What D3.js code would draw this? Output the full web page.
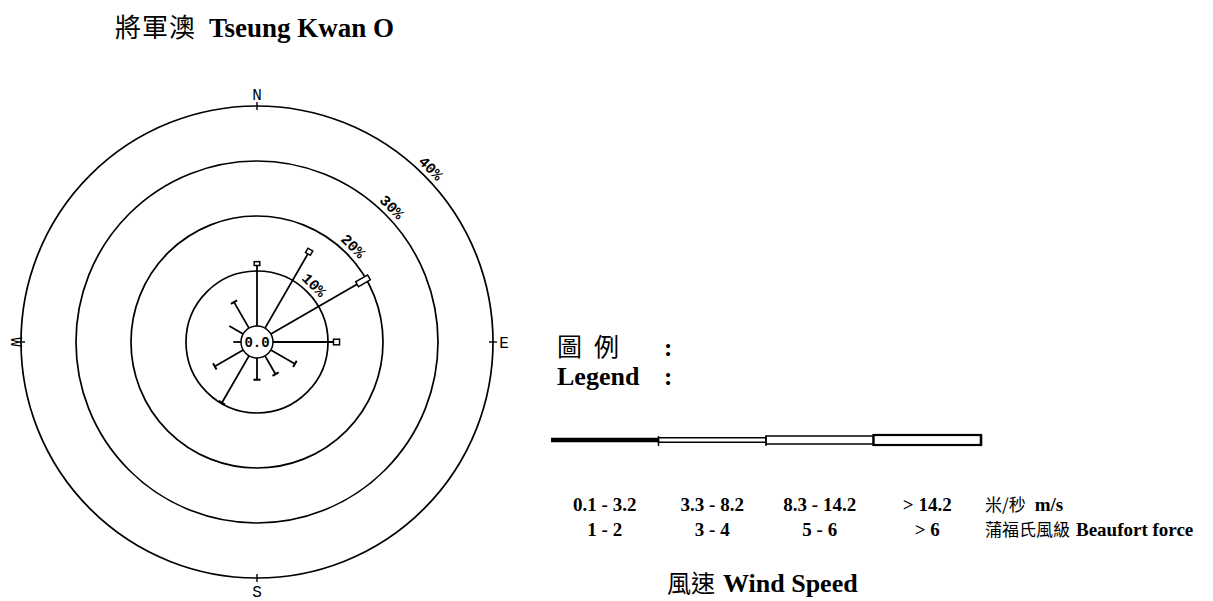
<!DOCTYPE html>
<html>
<head>
<meta charset="utf-8">
<script src="https://cdn.jsdelivr.net/npm/d3@7"></script>
<style>
  body { margin: 0; background: #fff; }
  svg { display: block; }
</style>
</head>
<body>
<div id="chart"></div>
<script>
// wind rose data (percent of time), 12 directions
const directions = [0, 30, 60, 90, 120, 150, 180, 210, 240, 270, 300, 330];
const speed12 = [11.0, 15.6, 18.1, 11.0, 5.0, 3.8, 3.9, 9.8, 5.9, 1.4, 2.9, 5.4];
const speed34 = [0.7, 0.9, 2.5, 1.1, 0.1, 0.1, 0.1, 0.1, 0.1, 0, 0, 0.1];
const calm = "0.0";
const ringValues = [10, 20, 30, 40];
const compass = ["N", "E", "S", "W"];

// legend
const speedClasses = ["0.1 - 3.2", "3.3 - 8.2", "8.3 - 14.2", "> 14.2"];
const beaufortClasses = ["1 - 2", "3 - 4", "5 - 6", "> 6"];

const width = 1213;
const height = 601;
const cx = 257;
const cy = 342;

const svg = d3
  .select("#chart")
  .append("svg")
  .attr("width", width)
  .attr("height", height);

const serif = "'Liberation Serif', 'Times New Roman', serif";
const cjk = "'Noto Sans CJK TC', 'Noto Sans CJK SC', sans-serif";
const mono = "'Liberation Mono', 'DejaVu Sans Mono', monospace";

// radius scale: percent -> px, starting at the calm circle
const r = d3.scaleLinear().domain([0, 40]).range([16, 236]);

//title
const title = svg
  .append("text")
  .attr("x", 115)
  .attr("y", 37);
title
  .append("tspan")
  .style("font-family", cjk)
  .style("font-size", "26px")
  .attr("letter-spacing", 1)
  .text("將軍澳");
title
  .append("tspan")
  .attr("dx", 13)
  .style("font-family", serif)
  .style("font-weight", "bold")
  .style("font-size", "27px")
  .text("Tseung Kwan O");

const rose = svg.append("g").attr("transform", `translate(${cx},${cy})`);

// rings
rose
  .selectAll("circle.ring")
  .data(ringValues)
  .enter()
  .append("circle")
  .attr("class", "ring")
  .attr("r", (d) => r(d))
  .attr("fill", "none")
  .attr("stroke", "#000")
  .attr("stroke-width", 1.7);

// ring labels at 45 degrees, rotated along the ring
rose
  .selectAll("text.ringlabel")
  .data(ringValues)
  .enter()
  .append("text")
  .attr("class", "ringlabel")
  .attr("transform", (d) => {
    const rr = r(d) + 10;
    const a = (45 * Math.PI) / 180;
    return `translate(${rr * Math.sin(a)},${-rr * Math.cos(a)}) rotate(45)`;
  })
  .attr("text-anchor", "middle")
  .attr("dy", "0.35em")
  .style("font-family", mono)
  .style("font-weight", "bold")
  .style("font-size", "15px")
  .text((d) => d + "%");

// compass ticks + letters
const outer = r(40);
compass.forEach((c, i) => {
  const g = rose.append("g").attr("transform", `rotate(${i * 90})`);
  g.append("line")
    .attr("x1", 0)
    .attr("x2", 0)
    .attr("y1", -outer - 4)
    .attr("y2", -outer + 4)
    .attr("stroke", "#000")
    .attr("stroke-width", 1.4);
});
const letterPos = {
  N: [0, -outer - 12, 0],
  E: [outer + 11, 0, 0],
  S: [0, outer + 13, 0],
  W: [-outer - 4, 0, 90],
};
compass.forEach((c) => {
  const p = letterPos[c];
  rose
    .append("text")
    .attr("transform", `translate(${p[0]},${p[1]}) rotate(${p[2]})`)
    .attr("text-anchor", "middle")
    .attr("dy", "0.36em")
    .style("font-family", mono)
    .style("font-size", "16px")
    .text(c);
});

// spokes
const spokes = rose
  .selectAll("g.spoke")
  .data(directions.map((d, i) => ({ dir: d, a: speed12[i], b: speed34[i] })))
  .enter()
  .append("g")
  .attr("class", "spoke")
  .attr("transform", (d) => `rotate(${d.dir})`);

spokes
  .append("line")
  .attr("x1", 0)
  .attr("x2", 0)
  .attr("y1", -r(0))
  .attr("y2", (d) => -r(d.a))
  .attr("stroke", "#000")
  .attr("stroke-width", 1.8);

spokes
  .filter((d) => d.b > 0)
  .append("rect")
  .attr("x", -2.8)
  .attr("width", 5.6)
  .attr("y", (d) => -r(d.a + d.b))
  .attr("height", (d) => r(d.a + d.b) - r(d.a))
  .attr("fill", "#fff")
  .attr("stroke", "#000")
  .attr("stroke-width", 1.5);

// calm circle
rose
  .append("circle")
  .attr("r", r(0))
  .attr("fill", "#fff")
  .attr("stroke", "#000")
  .attr("stroke-width", 1.5);
rose
  .append("text")
  .attr("text-anchor", "middle")
  .attr("dy", "0.36em")
  .style("font-family", mono)
  .style("font-weight", "bold")
  .style("font-size", "14px")
  .text(calm);

// legend heading
const head = svg.append("g").style("font-size", "25px");
head
  .append("text")
  .attr("x", 557)
  .attr("y", 356)
  .style("font-family", cjk)
  .text("圖");
head
  .append("text")
  .attr("x", 594)
  .attr("y", 356)
  .style("font-family", cjk)
  .text("例");
head
  .append("text")
  .attr("x", 664)
  .attr("y", 356)
  .style("font-family", serif)
  .style("font-weight", "bold")
  .text(":");
head
  .append("text")
  .attr("x", 557)
  .attr("y", 385)
  .style("font-family", serif)
  .style("font-weight", "bold")
  .style("font-size", "26px")
  .text("Legend");
head
  .append("text")
  .attr("x", 664)
  .attr("y", 385)
  .style("font-family", serif)
  .style("font-weight", "bold")
  .text(":");

// legend bar
const xLeg = d3.scaleBand().domain(speedClasses).range([551, 981]);
const barH = [4.5, 4.5, 8, 10];
const barY = 440;
svg
  .append("g")
  .selectAll("rect")
  .data(speedClasses)
  .enter()
  .append("rect")
  .attr("x", (d) => xLeg(d))
  .attr("width", xLeg.bandwidth())
  .attr("y", (d, i) => barY - barH[i] / 2)
  .attr("height", (d, i) => barH[i])
  .attr("fill", (d, i) => (i === 0 ? "#000" : "#fff"))
  .attr("stroke", "#000")
  .attr("stroke-width", (d, i) => (i === 0 ? 0 : i === 3 ? 2.2 : 1.5));

// little end ticks on the bar
svg
  .append("g")
  .selectAll("line")
  .data(speedClasses.slice(1))
  .enter()
  .append("line")
  .attr("x1", (d) => xLeg(d))
  .attr("x2", (d) => xLeg(d))
  .attr("y1", barY - 4)
  .attr("y2", barY + 6)
  .attr("stroke", "#000")
  .attr("stroke-width", 1.4);
svg
  .append("line")
  .attr("x1", 981)
  .attr("x2", 981)
  .attr("y1", barY - 5)
  .attr("y2", barY + 6)
  .attr("stroke", "#000")
  .attr("stroke-width", 2.4);

// legend labels
const row1Y = 511;
const row2Y = 536;
const legText = svg
  .append("g")
  .style("font-family", serif)
  .style("font-weight", "bold")
  .style("font-size", "19px");
legText
  .selectAll("text.row1")
  .data(speedClasses)
  .enter()
  .append("text")
  .attr("class", "row1")
  .attr("x", (d) => xLeg(d) + xLeg.bandwidth() / 2)
  .attr("y", row1Y)
  .attr("text-anchor", "middle")
  .text((d) => d);
legText
  .selectAll("text.row2")
  .data(beaufortClasses)
  .enter()
  .append("text")
  .attr("class", "row2")
  .attr("x", (d, i) => xLeg(speedClasses[i]) + xLeg.bandwidth() / 2)
  .attr("y", row2Y)
  .attr("text-anchor", "middle")
  .text((d) => d);

const unit1 = svg.append("text").attr("x", 985).attr("y", row1Y);
unit1
  .append("tspan")
  .style("font-family", cjk)
  .style("font-size", "17px")
  .text("米/秒");
unit1
  .append("tspan")
  .attr("dx", 9)
  .style("font-family", serif)
  .style("font-weight", "bold")
  .style("font-size", "19px")
  .text("m/s");
const unit2 = svg.append("text").attr("x", 985).attr("y", row2Y);
unit2
  .append("tspan")
  .style("font-family", cjk)
  .style("font-size", "17px")
  .text("蒲福氏風級");
unit2
  .append("tspan")
  .attr("dx", 6)
  .style("font-family", serif)
  .style("font-weight", "bold")
  .style("font-size", "19px")
  .text("Beaufort force");

const foot = svg.append("text").attr("x", 667).attr("y", 592);
foot
  .append("tspan")
  .style("font-family", cjk)
  .style("font-size", "24px")
  .text("風速");
foot
  .append("tspan")
  .attr("dx", 8)
  .style("font-family", serif)
  .style("font-weight", "bold")
  .style("font-size", "26px")
  .text("Wind Speed");
</script>
</body>
</html>
